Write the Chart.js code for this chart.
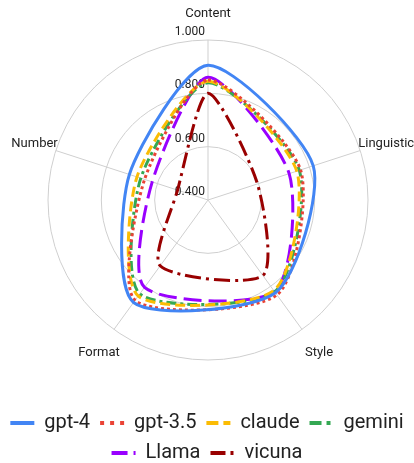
<!DOCTYPE html>
<html><head><meta charset="utf-8">
<script src="https://cdn.jsdelivr.net/npm/chart.js@4.4.1/dist/chart.umd.min.js"></script>
<style>html,body{margin:0;padding:0;background:#fff}#wrap{width:414px;height:463px;position:relative}</style>
</head><body><div id="wrap"><canvas id="c"></canvas></div>
<script>
const categories = ['Content', 'Linguistic', 'Style', 'Format', 'Number'];
const seriesNames = ['gpt-4', 'gpt-3.5', 'claude', 'gemini', 'Llama', 'vicuna'];
const gpt4   = [0.905, 0.815, 0.830, 0.875, 0.710];
const gpt35  = [0.850, 0.765, 0.840, 0.865, 0.650];
const claude = [0.845, 0.750, 0.820, 0.845, 0.680];
const gemini = [0.840, 0.760, 0.825, 0.835, 0.665];
const llama  = [0.860, 0.720, 0.825, 0.805, 0.620];
const vicuna = [0.800, 0.595, 0.750, 0.705, 0.520];
const tickValues = [0.4, 0.6, 0.8, 1.0];

const seriesValues = [gpt4, gpt35, claude, gemini, llama, vicuna];
const colors = ['#4285F4', '#EA4335', '#FBBC04', '#34A853', '#9900FF', '#990000'];
const dashes = [[], [3, 3], [10, 5], [10, 4, 3, 4], [18, 7], [16, 5, 3, 5]];
const legendDashes = [[], [4, 6], [12, 5], [12, 5, 4, 5], [16, 6], [15, 5, 3, 5]];
// plot geometry (centre and outer radius of the radial scale, in px)
const plotGeom = { x: 208, y: 200, radius: 160 };

const tickLabelPlugin = {
  id: 'tickLabels',
  beforeDatasetsDraw(chart) {
    const s = chart.scales.r, ctx = chart.ctx;
    ctx.save();
    ctx.font = '12px Roboto';
    ctx.fillStyle = '#222';
    ctx.textAlign = 'right';
    ctx.textBaseline = 'middle';
    s.ticks.forEach(t => {
      const d = s.getDistanceFromCenterForValue(t.value);
      ctx.fillText(t.value.toFixed(3), s.xCenter - 3, s.yCenter - d - 8);
    });
    ctx.restore();
  }
};

new Chart(document.getElementById('c'), {
  type: 'radar',
  data: {
    labels: categories,
    datasets: seriesNames.map((n, i) => ({
      label: n,
      data: seriesValues[i],
      borderColor: colors[i],
      backgroundColor: colors[i],
      borderDash: dashes[i],
      borderWidth: 3,
      fill: false,
      pointRadius: 0,
      pointHoverRadius: 0,
      tension: 0.25
    }))
  },
  options: {
    responsive: true,
    maintainAspectRatio: false,
    animation: false,
    layout: { padding: { left: 0, right: 0, top: 0, bottom: -10 } },
    scales: {
      r: {
        min: 0.4, max: 1.0,
        beforeFit(scale) {
          scale.setCenterPoint = function () {
            this.xCenter = plotGeom.x;
            this.yCenter = plotGeom.y;
            this.drawingArea = plotGeom.radius;
          };
        },
        afterBuildTicks(scale) { scale.ticks = tickValues.map(v => ({ value: v })); },
        ticks: { display: false },
        grid: { circular: true, color: '#cfcfcf', lineWidth: 1 },
        angleLines: { color: '#cfcfcf', lineWidth: 1 },
        pointLabels: {
          color: '#222',
          padding: ctx => [18, -2, 5, -10, -2][ctx.index],
          font: ctx => ({ family: 'Roboto', size: 13, lineHeight: [1.2, 1.2, 3.0, 4.85, 1.2][ctx.index] })
        }
      }
    },
    plugins: {
      tooltip: { enabled: false },
      legend: {
        position: 'bottom',
        labels: {
          color: '#222',
          font: { family: 'Roboto', size: 20 },
          usePointStyle: true,
          pointStyle: 'line',
          pointStyleWidth: 24,
          padding: 10,
          generateLabels(chart) {
            return Chart.defaults.plugins.legend.labels.generateLabels(chart).map((it, i) => Object.assign(it, {
              lineWidth: 4, pointStyle: 'line', strokeStyle: colors[i], lineDash: legendDashes[i], lineCap: 'butt'
            }));
          }
        }
      }
    }
  },
  plugins: [tickLabelPlugin]
});
</script></body></html>
